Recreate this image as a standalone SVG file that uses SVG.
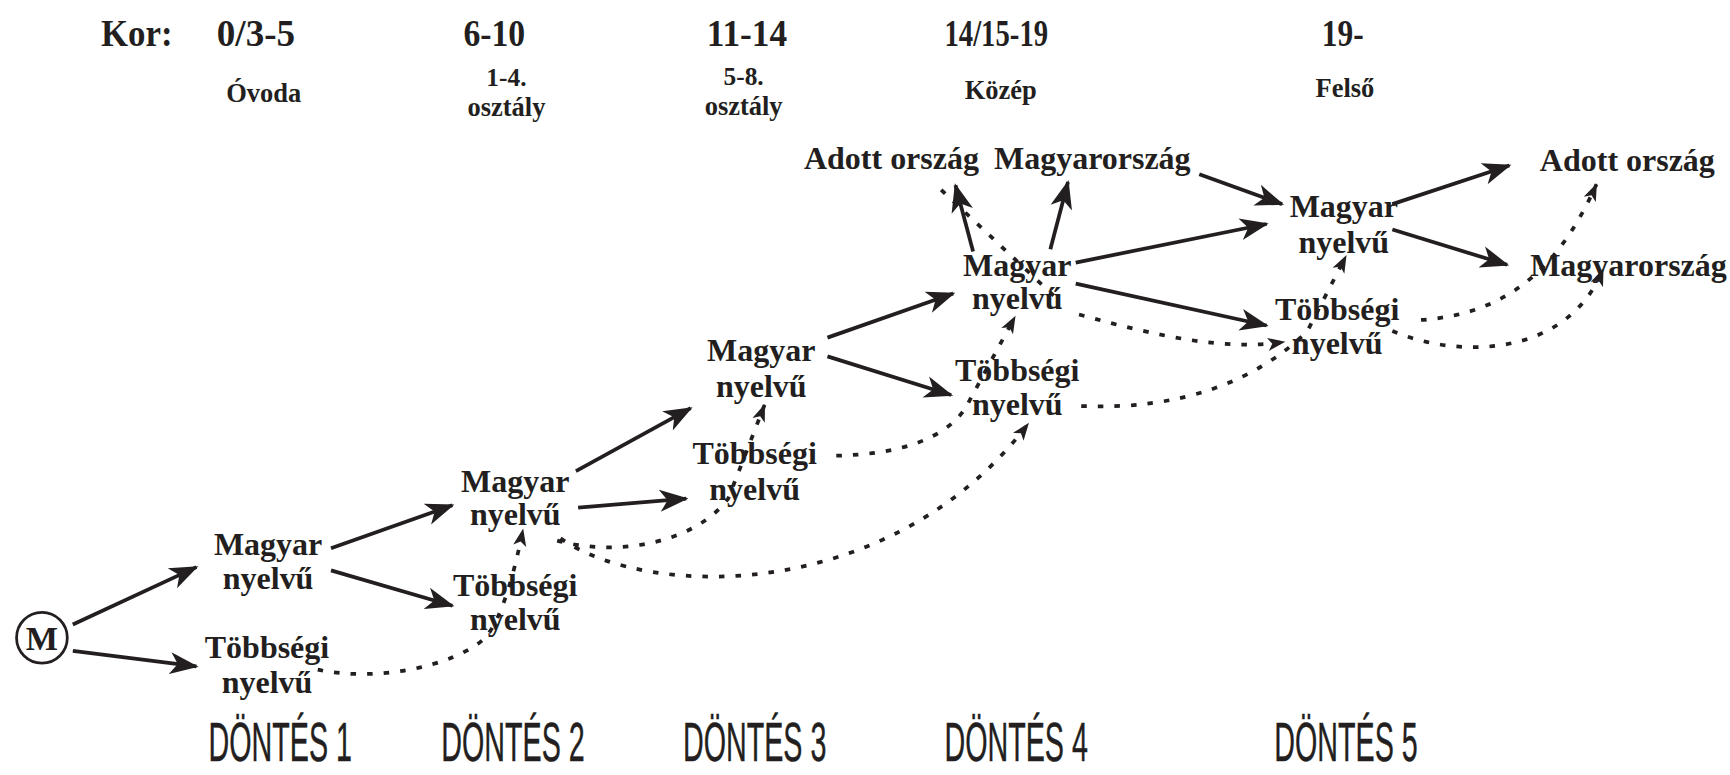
<svg xmlns="http://www.w3.org/2000/svg" width="1730" height="775" viewBox="0 0 1730 775">
<style>
.h1{font-family:"Liberation Serif","Times New Roman",serif;font-weight:bold;font-size:34px;fill:#231f20;text-anchor:middle}
.h2{font-family:"Liberation Serif","Times New Roman",serif;font-weight:bold;font-size:24px;fill:#231f20;text-anchor:middle}
.n{font-family:"Liberation Serif","Times New Roman",serif;font-weight:bold;font-size:29px;fill:#231f20;text-anchor:middle}
.d{font-family:"Liberation Sans",Arial,sans-serif;font-size:50px;fill:#231f20;stroke:#231f20;stroke-width:0.4;text-anchor:middle}
.s{fill:none;stroke:#231f20;stroke-width:3.4;marker-end:url(#ah)}
.p{fill:none;stroke:#231f20;stroke-width:3.4;stroke-dasharray:5 10}
.pa{marker-end:url(#ahs)}
</style>
<defs>
<marker id="ah" markerUnits="userSpaceOnUse" markerWidth="28" markerHeight="22" refX="24" refY="10" orient="auto" viewBox="0 0 28 20">
<path d="M0,0 L26,10 L0,20 L7,10 z" fill="#231f20"/>
</marker>
<marker id="ahs" markerUnits="userSpaceOnUse" markerWidth="18" markerHeight="14" refX="15" refY="6" orient="auto" viewBox="0 0 18 12">
<path d="M0,0 L16,6 L0,12 L4,6 z" fill="#231f20"/>
</marker>
</defs>
<rect width="1730" height="775" fill="#fff"/>
<g id="diagram" transform="scale(1.1033)">
<g id="header">
<text class="h1" x="124" y="42" textLength="65" lengthAdjust="spacingAndGlyphs">Kor:</text>
<text class="h1" x="232" y="42" textLength="71" lengthAdjust="spacingAndGlyphs">0/3-5</text>
<text class="h1" x="448" y="42" textLength="56" lengthAdjust="spacingAndGlyphs">6-10</text>
<text class="h1" x="677" y="42" textLength="73" lengthAdjust="spacingAndGlyphs">11-14</text>
<text class="h1" x="903" y="42" textLength="94" lengthAdjust="spacingAndGlyphs">14/15-19</text>
<text class="h1" x="1217" y="42" textLength="38" lengthAdjust="spacingAndGlyphs">19-</text>
<text class="h2" x="239" y="92">Óvoda</text>
<text class="h2" x="459" y="78" style="font-size:23px">1-4.</text>
<text class="h2" x="459" y="105">osztály</text>
<text class="h2" x="674" y="77" style="font-size:23px">5-8.</text>
<text class="h2" x="674" y="104">osztály</text>
<text class="h2" x="907" y="90">Közép</text>
<text class="h2" x="1219" y="88">Felső</text>
</g>
<g id="connectors">
<line class="s" x1="66" y1="566" x2="178" y2="514"/>
<line class="s" x1="66" y1="590" x2="178" y2="604"/>
<line class="s" x1="300" y1="497" x2="410" y2="458"/>
<line class="s" x1="300" y1="517" x2="410" y2="549"/>
<line class="s" x1="522" y1="427" x2="626" y2="370"/>
<line class="s" x1="524" y1="460" x2="622" y2="452"/>
<line class="s" x1="750" y1="306" x2="864" y2="266"/>
<line class="s" x1="750" y1="323" x2="862" y2="358"/>
<line class="s" x1="882" y1="228" x2="866" y2="168"/>
<line class="s" x1="952" y1="226" x2="968" y2="165"/>
<line class="s" x1="975" y1="238" x2="1148" y2="203"/>
<line class="s" x1="975" y1="257" x2="1148" y2="295"/>
<line class="s" x1="1087" y1="158" x2="1162" y2="185"/>
<line class="s" x1="1262" y1="185" x2="1368" y2="150"/>
<line class="s" x1="1262" y1="208" x2="1366" y2="240"/>
<path class="p pa" d="M288,607 C340,618 410,605 440,578 C455,560 466,520 474,480"/>
<path class="p pa" d="M505,490 C560,505 630,492 660,452 L693,367"/>
<path class="p pa" d="M508,488 C590,545 810,545 932,384"/>
<path class="p pa" d="M758,413 C810,412 855,400 875,370 L920,287"/>
<path class="p" d="M955,268 L853,172"/>
<path class="p pa" d="M978,285 C1050,305 1110,318 1164,310"/>
<path class="p pa" d="M980,368 C1070,372 1140,345 1185,300 L1220,232"/>
<path class="p pa" d="M1288,290 C1360,285 1410,250 1447,167"/>
<path class="p pa" d="M1262,300 C1320,325 1420,325 1453,244"/>
</g>
<g id="node-M">
<circle cx="38" cy="578" r="23" fill="none" stroke="#231f20" stroke-width="2.5"/>
<text class="n" x="38" y="589" style="font-size:31px">M</text>
</g>
<g id="d1-magyar"><text class="n"><tspan x="243" y="503">Magyar</tspan><tspan x="243" y="534">nyelvű</tspan></text></g>
<g id="d1-tobbsegi"><text class="n"><tspan x="242" y="596">Többségi</tspan><tspan x="242" y="628">nyelvű</tspan></text></g>
<g id="d2-magyar"><text class="n"><tspan x="467" y="446">Magyar</tspan><tspan x="467" y="476">nyelvű</tspan></text></g>
<g id="d2-tobbsegi"><text class="n"><tspan x="467" y="540">Többségi</tspan><tspan x="467" y="571">nyelvű</tspan></text></g>
<g id="d3-magyar"><text class="n"><tspan x="690" y="327">Magyar</tspan><tspan x="690" y="360">nyelvű</tspan></text></g>
<g id="d3-tobbsegi"><text class="n"><tspan x="684" y="421">Többségi</tspan><tspan x="684" y="453">nyelvű</tspan></text></g>
<g id="d4-magyar"><text class="n"><tspan x="922" y="250">Magyar</tspan><tspan x="922" y="280">nyelvű</tspan></text></g>
<g id="d4-tobbsegi"><text class="n"><tspan x="922" y="345">Többségi</tspan><tspan x="922" y="376">nyelvű</tspan></text></g>
<g id="d4-adott"><text class="n" x="808" y="153">Adott ország</text></g>
<g id="d4-magyarorszag"><text class="n" x="990" y="153">Magyarország</text></g>
<g id="d5-magyar"><text class="n"><tspan x="1218" y="197">Magyar</tspan><tspan x="1218" y="229">nyelvű</tspan></text></g>
<g id="d5-tobbsegi"><text class="n"><tspan x="1212" y="290">Többségi</tspan><tspan x="1212" y="321">nyelvű</tspan></text></g>
<g id="d5-adott"><text class="n" x="1475" y="155">Adott ország</text></g>
<g id="d5-magyarorszag"><text class="n" x="1476" y="250">Magyarország</text></g>
<g id="decisions">
<text class="d" transform="translate(254,690) scale(0.52,1)">DÖNTÉS 1</text>
<text class="d" transform="translate(465,690) scale(0.52,1)">DÖNTÉS 2</text>
<text class="d" transform="translate(684,690) scale(0.52,1)">DÖNTÉS 3</text>
<text class="d" transform="translate(921,690) scale(0.52,1)">DÖNTÉS 4</text>
<text class="d" transform="translate(1220,690) scale(0.52,1)">DÖNTÉS 5</text>
</g>
</g>
</svg>
